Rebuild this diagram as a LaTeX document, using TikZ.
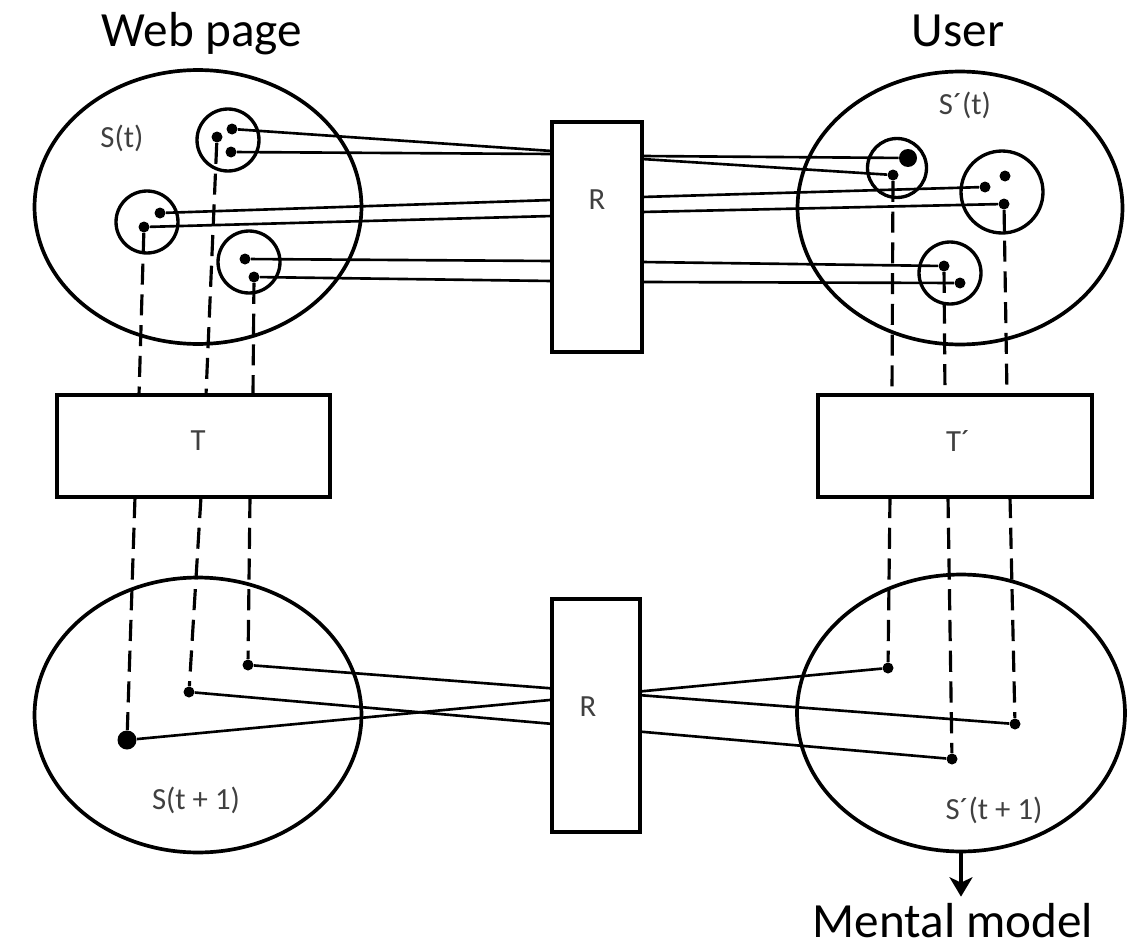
\documentclass[tikz,border=0pt]{standalone}
\usepackage{fontspec}
\setmainfont{Carlito}
\usetikzlibrary{shapes.geometric,arrows.meta}

\begin{document}
\begin{tikzpicture}[x=0.02cm,y=-0.02cm,
    broken/.style={dash pattern=on 12pt off 5.5pt,line width=1.8pt},
    lbl/.style={text=black!75,font=\fontsize{17.5}{20}\selectfont},
    heading/.style={anchor=base,font=\fontsize{28}{34}\selectfont}]

        \useasboundingbox (0,0) rectangle (1143,950);

        % headings
        \node[heading] (web)  at (202,47)  {Web page};
        \node[heading] (user) at (958,47)  {User};
        \node[heading] (mm)   at (953,937) {Mental model};

        % the four states
        \begin{scope}[every node/.style={ellipse,draw,line width=2.1pt,inner sep=0}]
          \node[minimum width=6.54cm,minimum height=5.48cm] (St)  at (198,207) {};
          \node[minimum width=6.5cm,minimum height=5.46cm]  (Su)  at (960,208) {};
          \node[minimum width=6.54cm,minimum height=5.5cm]  (St1) at (198,715) {};
          \node[minimum width=6.56cm,minimum height=5.54cm] (Su1) at (961,713) {};
        \end{scope}

        \begin{scope}[every node/.style={circle,draw,line width=1.9pt,inner sep=0,minimum size=1.24cm}]
          \node (c1) at (228,140) {};
          \node (c2) at (147,222) {};
          \node (c3) at (249,262) {};
          \node[minimum size=1.18cm] (c4) at (897,168) {};
          \node[minimum size=1.64cm] (c5) at (1002,192) {};
          \node (c6) at (950,273) {};
        \end{scope}

        \begin{scope}[every node/.style={circle,fill,inner sep=0,minimum size=0.22cm}]
          \node (a1) at (232,129) {};
          \node (a2) at (231,152) {};
          \node (a3) at (217,137) {};
          \node (b1) at (160,213) {};
          \node (b2) at (144,227) {};
          \node (b3) at (245,259) {};
          \node (b4) at (254,277) {};
          \node[minimum size=0.36cm] (d1) at (908,158) {};
          \node (d2) at (893,175) {};
          \node (e1) at (985,187) {};
          \node (e2) at (1005,176) {};
          \node (e3) at (1004,204) {};
          \node (f1) at (944,266) {};
          \node (f2) at (960,283) {};
          \node[minimum size=0.38cm] (g1) at (127,740) {};
          \node (g2) at (189,692) {};
          \node (g3) at (248,665) {};
          \node (h1) at (888,668) {};
          \node (h2) at (1015,724) {};
          \node (h3) at (952,759) {};
        \end{scope}

        % ends on the R box
        \coordinate (l1) at (552,151);
        \coordinate (l2) at (552,154);
        \coordinate (l3) at (552,200);
        \coordinate (l4) at (552,216);
        \coordinate (l5) at (552,261);
        \coordinate (l6) at (552,281);
        \coordinate (r1) at (642,156);
        \coordinate (r2) at (642,159);
        \coordinate (r3) at (642,197);
        \coordinate (r4) at (642,212);
        \coordinate (r5) at (642,262);
        \coordinate (r6) at (642,282);

        % ends on the T boxes
        \coordinate (t1) at (139,395);
        \coordinate (t2) at (206,395);
        \coordinate (t3) at (253,395);
        \coordinate (t4) at (135,497);
        \coordinate (t5) at (201,497);
        \coordinate (t6) at (250,497);
        \coordinate (u1) at (892,395);
        \coordinate (u2) at (945,395);
        \coordinate (u3) at (1007,395);
        \coordinate (u4) at (890,497);
        \coordinate (u5) at (948,497);
        \coordinate (u6) at (1010,497);

        \begin{scope}[every edge/.style={draw,line width=1.5pt}]
          \path (a1) edge (l1);
          \path (a2) edge (l2);
          \path (b1) edge (l3);
          \path (b2) edge (l4);
          \path (b3) edge (l5);
          \path (b4) edge (l6);
          \path (r1) edge (d1);
          \path (r2) edge (d2);
          \path (r3) edge (e1);
          \path (r4) edge (e3);
          \path (r5) edge (f1);
          \path (r6) edge (f2);
          \path (g1) edge (h1);
          \path (g2) edge (h3);
          \path (g3) edge (h2);

          \path (b2) edge[broken] (t1);
          \path (a3) edge[broken] (t2);
          \path (b4) edge[broken] (t3);
          \path (t4) edge[broken] (g1);
          \path (t5) edge[broken] (g2);
          \path (t6) edge[broken] (g3);
          \path (d2) edge[broken] (u1);
          \path (f1) edge[broken] (u2);
          \path (e3) edge[broken] (u3);
          \path (u4) edge[broken] (h1);
          \path (u5) edge[broken] (h3);
          \path (u6) edge[broken] (h2);
        \end{scope}

        % transformation boxes
        \begin{scope}[every node/.style={rectangle,draw,fill=white,line width=2.1pt,inner sep=0}]
          \node[minimum width=1.8cm,minimum height=4.6cm]   (R)  at (597,237) {};
          \node[minimum width=1.76cm,minimum height=4.66cm] (R1) at (596,715.5) {};
          \node[minimum width=5.46cm,minimum height=2.04cm] (T)  at (193.5,446) {};
          \node[minimum width=5.48cm,minimum height=2.04cm] (Tu) at (955,446) {};
        \end{scope}

        \node[lbl] (Rl)   at (597,200) {R};
        \node[lbl] (R1l)  at (588,707) {R};
        \node[lbl] (Tl)   at (198,441) {T};
        \node[lbl] (Tul)  at (958,441) {T´};
        \node[lbl] (Stl)  at (122,138) {S(t)};
        \node[lbl] (Sul)  at (965,105) {S´(t)};
        \node[lbl] (St1l) at (196,800) {S(t + 1)};
        \node[lbl] (Su1l) at (994,810) {S´(t + 1)};

        \draw[line width=2.2pt,-{Stealth[length=11pt,width=13pt,inset=3pt]}] (Su1.south) -- (Su1.south |- mm.north);

      \end{tikzpicture}
\end{document}
